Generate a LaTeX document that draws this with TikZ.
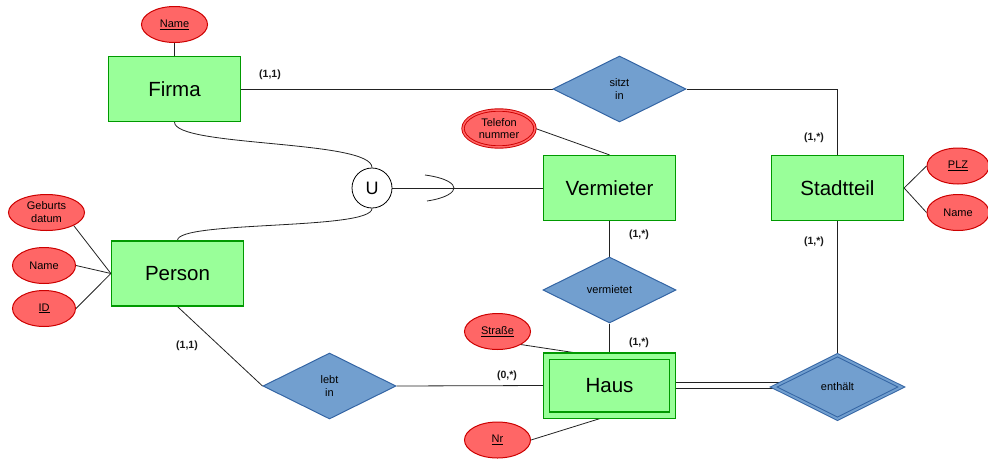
\documentclass[tikz,border=0pt]{standalone}
\usepackage{fontspec}
\setmainfont{Liberation Sans}
\usetikzlibrary{shapes.geometric,calc,backgrounds}
\definecolor{entfill}{HTML}{99FF99}
\definecolor{entdraw}{HTML}{009900}
\definecolor{attfill}{HTML}{FF6666}
\definecolor{attdraw}{HTML}{CC0000}
\definecolor{relfill}{HTML}{729FCF}
\definecolor{reldraw}{HTML}{3465A4}
\definecolor{linec}{HTML}{222222}
\begin{document}
\begin{tikzpicture}[x=1pt,y=-1pt,
 entity/.style={rectangle, draw=entdraw, fill=entfill, line width=1.2pt, minimum width=132pt, minimum height=65pt, inner sep=0pt, font=\fontsize{20.5}{24}\selectfont},
 attr/.style={ellipse, draw=attdraw, fill=attfill, line width=1pt, inner sep=0pt, font=\fontsize{11}{13}\selectfont, align=center},
 rel/.style={diamond, draw=reldraw, fill=relfill, line width=1pt, minimum width=133pt, minimum height=66pt, inner sep=0pt, font=\fontsize{11}{12.5}\selectfont, align=center},
 card/.style={font=\bfseries\fontsize{10.5}{12}\selectfont, text=black!90},
 conn/.style={draw=linec, line width=0.8pt},
]
\useasboundingbox (0,0) rectangle (988,461);

% entities
\node[entity] (firma) at (174.5,89) {Firma};
\node[entity] (stadt) at (837.5,188) {Stadtteil};
\node[entity] (verm) at (609.5,188) {Vermieter};
\node[entity] (person) at (177.5,273.5) {Person};
\node[entity, double=entfill, double distance=5pt, minimum width=126pt, minimum height=59pt] (haus) at (609.5,385.5) {Haus};

% attributes
\node[attr, minimum width=66pt, minimum height=36pt] (fname) at (174.5,24.5) {\underline{Name}};
\node[attr, minimum width=62pt, minimum height=36pt] (plz) at (958,166) {\underline{PLZ}};
\node[attr, minimum width=62pt, minimum height=36pt] (sname) at (958,212.5) {Name};
\node[attr, double=attfill, double distance=1.5pt, line width=0.9pt, minimum width=72pt, minimum height=37pt] (tel) at (499,128.5) {Telefon\\[-1pt]nummer};
\node[attr, minimum width=76pt, minimum height=36pt] (geb) at (46.5,212.5) {Geburts\\datum};
\node[attr, minimum width=63pt, minimum height=36pt] (pname) at (44,265.5) {Name};
\node[attr, minimum width=63pt, minimum height=36pt] (pid) at (44,308.5) {\underline{ID}};
\node[attr, minimum width=66pt, minimum height=36pt] (str) at (497.5,331.5) {\underline{Straße}};
\node[attr, minimum width=66pt, minimum height=36pt] (nr) at (497.5,440) {\underline{Nr}};

% relationships
\node[rel] (sitzt) at (619.5,89) {sitzt\\in};
\node[rel] (lebt) at (329.5,386) {lebt\\in};
\node[rel] (vermt) at (609.5,290) {vermietet};
\node[rel, double=relfill, double distance=2pt, minimum width=128pt, minimum height=64pt] (enth) at (837.5,387) {enthält};

% union
\node[circle, draw=black, fill=white, line width=0.8pt, minimum size=40pt, inner sep=0pt, font=\fontsize{18}{20}\selectfont] (u) at (372,188) {U};

% cardinalities
\node[card] (c1) at (270,75) {(1,1)};
\node[card] (c2) at (814,138) {(1,*)};
\node[card] (c3) at (814,242) {(1,*)};
\node[card] (c4) at (639,235) {(1,*)};
\node[card] (c5) at (639,343) {(1,*)};
\node[card] (c6) at (507,376) {(0,*)};
\node[card] (c7) at (187,346) {(1,1)};

\coordinate (s1) at (425,175);
\coordinate (s2) at (427,201);
\coordinate (stip) at (454,188);

\begin{scope}[on background layer]
\draw[conn] (fname) -- (firma);
\draw[conn] (firma.east) -- (sitzt.west);
\draw[conn] (sitzt.east) -| (stadt.north);
\draw[conn] (stadt.east) -- (plz.west);
\draw[conn] (stadt.east) -- (sname.west);
\draw[conn] (tel.east) -- (verm.north);
\draw[conn] (u.east) -- (verm.west);
\draw[conn] (firma.south) .. controls +(0,25) and +(0,-28) .. (u.north);
\draw[conn] (person.north) .. controls +(0,-20) and +(0,22) .. (u.south);
\draw[conn] (s1) .. controls (447,178) and (454,184) .. (stip) .. controls (454,192) and (447,198) .. (s2);
\draw[conn] (person.west) -- (geb.south east);
\draw[conn] (person.west) -- (pname.east);
\draw[conn] (person.west) -- (pid.east);
\draw[conn] (person.south) -- (lebt.west);
\draw[conn] (lebt.east) -- (haus.west);
\draw[conn] (verm.south) -- (vermt.north);
\draw[conn] (vermt.south) -- (haus.north);
\draw[conn] (str.south east) -- ($(haus.north)+(-17,0)$);
\draw[conn] (nr.east) -- (haus.south);
\draw[conn] (stadt.south) -- (enth.north);
\draw[conn, double=white, double distance=5.5pt] (haus.east) -- (haus.east -| enth.center);
\end{scope}
\end{tikzpicture}
\end{document}
